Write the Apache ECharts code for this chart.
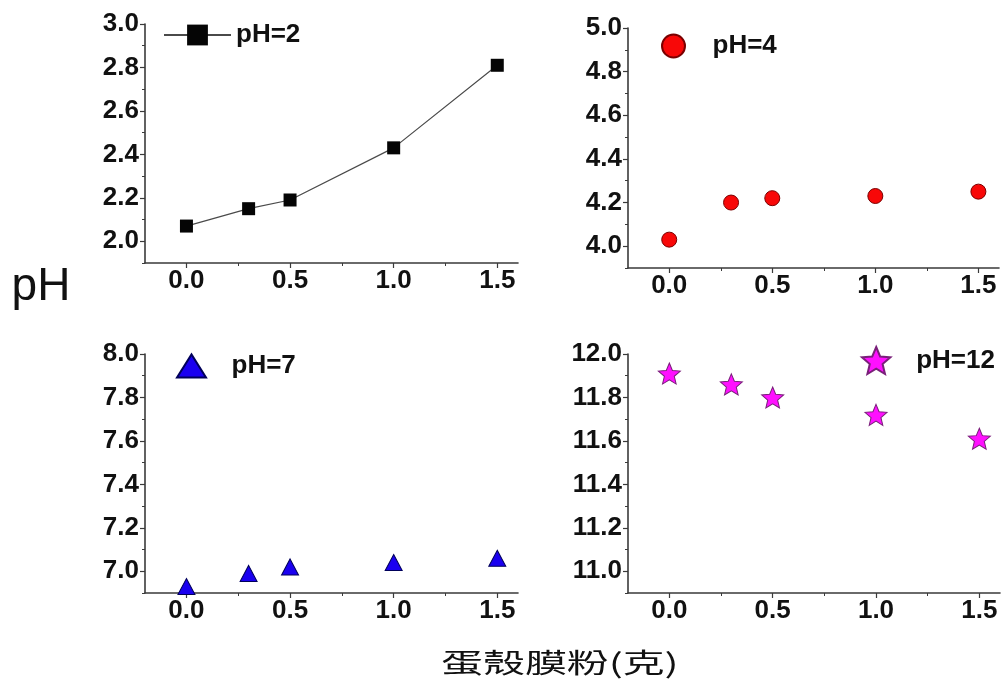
<!DOCTYPE html>
<html><head><meta charset="utf-8">
<script src="https://cdn.jsdelivr.net/npm/echarts@6/dist/echarts.min.js"></script>
<style>html,body{margin:0;padding:0;background:#fff}#c{width:1003px;height:683px}</style>
</head><body><div id="c"></div>
<script>
// ---- data ----
const xValues = [0, 0.3, 0.5, 1.0, 1.5];
const ph2Values = [2.07, 2.15, 2.19, 2.43, 2.81];
const ph4Values = [4.03, 4.20, 4.22, 4.23, 4.25];
const ph7Values = [6.93, 6.99, 7.02, 7.04, 7.06];
const ph12Values = [11.91, 11.86, 11.80, 11.72, 11.61];
const seriesNames = ['pH=2', 'pH=4', 'pH=7', 'pH=12'];
const xTickValues = [0, 0.5, 1.0, 1.5];
const xMinorTickValues = [0.25, 0.75, 1.25];
const xRange = [-0.2, 1.6];
const yRanges = [[1.9, 3.0], [3.9, 5.0], [6.9, 8.0], [10.9, 12.0]];
const yTickValues = [
  [2.0, 2.2, 2.4, 2.6, 2.8, 3.0],
  [4.0, 4.2, 4.4, 4.6, 4.8, 5.0],
  [7.0, 7.2, 7.4, 7.6, 7.8, 8.0],
  [11.0, 11.2, 11.4, 11.6, 11.8, 12.0]
];
const yMinorTickValues = [
  [1.9, 2.1, 2.3, 2.5, 2.7, 2.9],
  [3.9, 4.1, 4.3, 4.5, 4.7, 4.9],
  [6.9, 7.1, 7.3, 7.5, 7.7, 7.9],
  [10.9, 11.1, 11.3, 11.5, 11.7, 11.9]
];
const yAxisTitle = 'pH';
const xAxisTitle = '蛋殼膜粉(克)';

// ---- layout / style ----
const gridRects = [
  {left: 145, top: 24, width: 373, height: 239},
  {left: 628, top: 28, width: 371, height: 240},
  {left: 145, top: 354, width: 373, height: 239},
  {left: 628, top: 354, width: 372, height: 239}
];
const axisColor = '#3a3a3a';
const labelFont = {color: '#111', fontFamily: '"Liberation Sans", Arial, sans-serif', fontWeight: 'bold', fontSize: 26};
const starPath = 'path://M50,0L63.23,31.8L97.55,34.55L71.4,56.95L79.39,90.45L50,72.5L20.61,90.45L28.6,56.95L2.45,34.55L36.77,31.8Z';
const triPath = 'path://M0,23L14.5,0L29,23Z';

const pairs = ys => xValues.map((x, i) => [x, ys[i]]);

const grids = [], xAxes = [], yAxes = [];
gridRects.forEach(r => grids.push(Object.assign({containLabel: false}, r)));
gridRects.forEach(r => grids.push(Object.assign({containLabel: false}, r)));
// main axes
for (let i = 0; i < 4; i++) {
  xAxes.push({
    type: 'value', gridIndex: i, min: xRange[0], max: xRange[1],
    splitLine: {show: false},
    axisLine: {show: true, onZero: false, lineStyle: {color: axisColor, width: 1.6}},
    axisTick: {show: true, length: 5, customValues: xTickValues, lineStyle: {color: axisColor, width: 1.2}},
    axisLabel: Object.assign({show: true, margin: 5, customValues: xTickValues, formatter: v => v.toFixed(1)}, labelFont)
  });
  yAxes.push({
    type: 'value', gridIndex: i, min: yRanges[i][0], max: yRanges[i][1],
    splitLine: {show: false},
    axisLine: {show: true, onZero: false, lineStyle: {color: axisColor, width: 1.6}},
    axisTick: {show: true, length: 5, customValues: yTickValues[i], lineStyle: {color: axisColor, width: 1.2}},
    axisLabel: Object.assign({show: true, margin: 6, customValues: yTickValues[i], formatter: v => v.toFixed(1)}, labelFont)
  });
}
// minor tick axes
for (let i = 0; i < 4; i++) {
  xAxes.push({
    type: 'value', gridIndex: 4 + i, min: xRange[0], max: xRange[1],
    splitLine: {show: false},
    axisLine: {show: false, onZero: false},
    axisTick: {show: true, length: 3, customValues: xMinorTickValues, lineStyle: {color: axisColor, width: 1}},
    axisLabel: {show: false}
  });
  yAxes.push({
    type: 'value', gridIndex: 4 + i, min: yRanges[i][0], max: yRanges[i][1],
    splitLine: {show: false},
    axisLine: {show: false, onZero: false},
    axisTick: {show: true, length: 3, customValues: yMinorTickValues[i], lineStyle: {color: axisColor, width: 1}},
    axisLabel: {show: false}
  });
}

const legendText = {color: '#111', fontFamily: '"Liberation Sans", Arial, sans-serif', fontWeight: 'bold', fontSize: 26};
const legendBase = {orient: 'horizontal', padding: 0, selectedMode: false, symbolKeepAspect: true, textStyle: legendText};

const option = {
  backgroundColor: '#fff',
  animation: false,
  grid: grids,
  xAxis: xAxes,
  yAxis: yAxes,
  legend: [
    Object.assign({}, legendBase, {data: [seriesNames[0]], left: 163, top: 22, itemWidth: 67, itemHeight: 26}),
    Object.assign({}, legendBase, {data: [{name: seriesNames[1], icon: 'circle'}], left: 661, top: 33, itemWidth: 68, itemHeight: 23}),
    Object.assign({}, legendBase, {data: [{name: seriesNames[2], icon: triPath}], left: 176, top: 353, itemWidth: 70, itemHeight: 23}),
    Object.assign({}, legendBase, {data: [{name: seriesNames[3], icon: starPath}], left: 861, top: 346, itemWidth: 70, itemHeight: 27})
  ],
  series: [
    {
      type: 'line', name: seriesNames[0], xAxisIndex: 0, yAxisIndex: 0,
      data: pairs(ph2Values), symbol: 'rect', symbolSize: 13,
      itemStyle: {color: '#050505'}, lineStyle: {color: '#4a4a4a', width: 1.2}
    },
    {
      type: 'scatter', name: seriesNames[1], xAxisIndex: 1, yAxisIndex: 1,
      data: pairs(ph4Values), symbol: 'circle', symbolSize: 15,
      itemStyle: {color: '#f80808', borderColor: '#7a0000', borderWidth: 1, opacity: 1}
    },
    {
      type: 'scatter', name: seriesNames[2], xAxisIndex: 2, yAxisIndex: 2,
      data: pairs(ph7Values), symbol: 'triangle', symbolSize: [17, 16],
      itemStyle: {color: '#1a00f0', borderColor: '#00005a', borderWidth: 1, opacity: 1}
    },
    {
      type: 'scatter', name: seriesNames[3], xAxisIndex: 3, yAxisIndex: 3,
      data: pairs(ph12Values), symbol: starPath, symbolSize: [22, 21],
      itemStyle: {color: '#ff10ff', borderColor: '#7a207a', borderWidth: 1, opacity: 1}
    }
  ],
  graphic: [
    {
      type: 'text', x: 41, y: 287,
      style: {text: yAxisTitle, fill: '#111', font: '46px "Liberation Sans", Arial, sans-serif', align: 'center', verticalAlign: 'middle'}
    },
    {
      type: 'text', x: 560, y: 663, scaleX: 1.55,
      style: {text: xAxisTitle, fill: '#111', font: '27px "Noto Sans CJK TC", sans-serif', align: 'center', verticalAlign: 'middle'}
    }
  ]
};
const chart = echarts.init(document.getElementById('c'), null, {renderer: 'canvas'});
chart.setOption(option);
</script>
</body></html>
